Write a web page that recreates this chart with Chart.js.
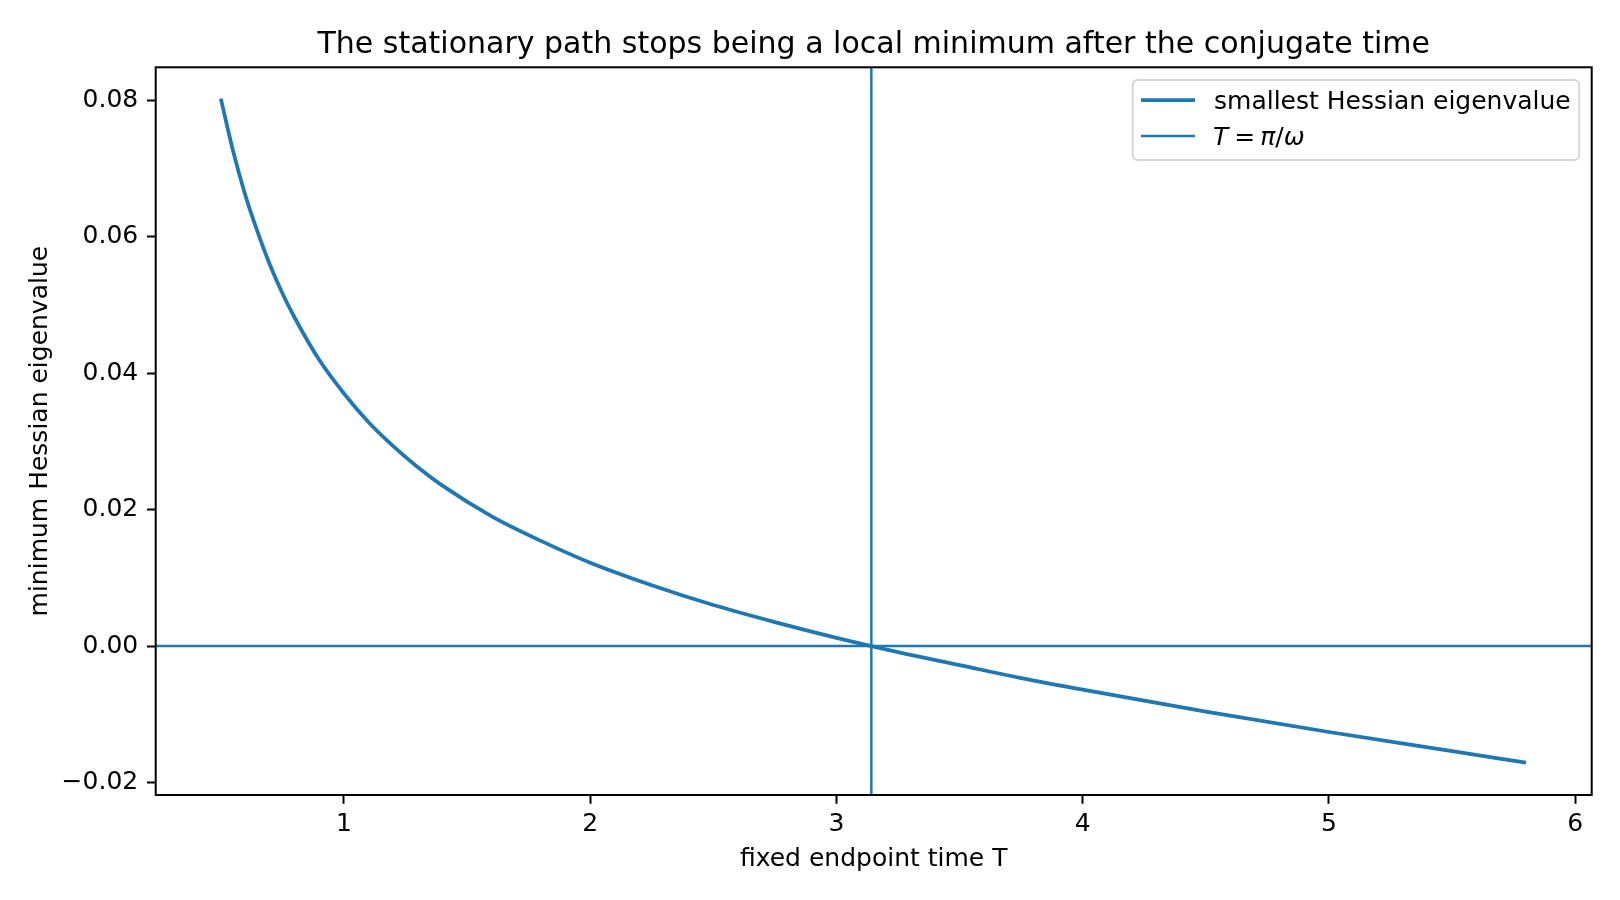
<!DOCTYPE html>
<html lang="en">
<head>
    <meta charset="UTF-8">
    <title>Conjugate time</title>
    <script src="https://cdn.jsdelivr.net/npm/chart.js@4.4.0/dist/chart.umd.min.js"></script>
    <style>
        body {
            margin: 0;
            background: #fff;
        }
        #wrap {
            width: 1620px;
            height: 900px;
        }
    </style>
</head>
<body>
    <div id="wrap">
        <canvas id="eigChart" width="1620" height="900"></canvas>
    </div>

    <script>
        // values
        const tValues = [0.5, 0.55, 0.6, 0.65, 0.7, 0.75, 0.8, 0.9, 1.0, 1.1, 1.2, 1.3, 1.4, 1.6, 1.8,
                         2.0, 2.25, 2.5, 2.75, 3.0, 3.25, 3.5, 3.75, 4.0, 4.5, 5.0, 5.5, 5.8];
        const eigValues = [0.0802, 0.0725, 0.0660, 0.0606, 0.0558, 0.0517, 0.0481, 0.0419, 0.0370,
                           0.0328, 0.0293, 0.0262, 0.0235, 0.0190, 0.0154, 0.0122, 0.0089, 0.0060,
                           0.0035, 0.0012, -0.0009, -0.0028, -0.0047, -0.0064, -0.0096, -0.0126,
                           -0.0154, -0.0171];
        const xTicks = [1, 2, 3, 4, 5, 6];
        const yTicks = [-0.02, 0.00, 0.02, 0.04, 0.06, 0.08];
        const conjugateTime = Math.PI; // T = pi / omega, omega = 1
        const zeroLevel = 0;

        const blue = '#1f77b4';
        const fontFam = "'DejaVu Sans', sans-serif";

        const titleText = 'The stationary path stops being a local minimum after the conjugate time';
        const xLabel = 'fixed endpoint time T';
        const yLabel = 'minimum Hessian eigenvalue';
        const legendLabel = 'smallest Hessian eigenvalue';

        const points = tValues.map((t, i) => ({ x: t, y: eigValues[i] }));

        // axhline / axvline + frame, title, labels, legend
        const decorPlugin = {
            id: 'decor',
            afterDatasetsDraw(chart) {
                const ctx = chart.ctx;
                const a = chart.chartArea;
                const xs = chart.scales.x, ys = chart.scales.y;
                ctx.save();
                ctx.beginPath();
                ctx.rect(a.left, a.top, a.right - a.left, a.bottom - a.top);
                ctx.clip();
                ctx.strokeStyle = blue;
                ctx.lineWidth = 2.5;
                const y0 = ys.getPixelForValue(zeroLevel);
                ctx.beginPath();
                ctx.moveTo(a.left, y0);
                ctx.lineTo(a.right, y0);
                ctx.stroke();
                const xc = xs.getPixelForValue(conjugateTime);
                ctx.beginPath();
                ctx.moveTo(xc, a.top);
                ctx.lineTo(xc, a.bottom);
                ctx.stroke();
                ctx.restore();
            },
            afterDraw(chart) {
                const ctx = chart.ctx;
                const a = chart.chartArea;
                ctx.save();
                // frame
                ctx.strokeStyle = '#000';
                ctx.lineWidth = 2;
                ctx.strokeRect(a.left, a.top, a.right - a.left, a.bottom - a.top);

                ctx.fillStyle = '#000';
                const cx = (a.left + a.right) / 2;
                ctx.textAlign = 'center';
                ctx.textBaseline = 'alphabetic';
                ctx.font = '30px ' + fontFam;
                ctx.fillText(titleText, cx, 52.7);

                ctx.font = '25px ' + fontFam;
                ctx.fillText(xLabel, cx, 866);

                ctx.save();
                ctx.translate(47, (a.top + a.bottom) / 2);
                ctx.rotate(-Math.PI / 2);
                ctx.fillText(yLabel, 0, 0);
                ctx.restore();

                // legend
                const lx = 1132.7, ly = 80, lw = a.right - 12.5 - lx, lh = 80;
                ctx.beginPath();
                ctx.roundRect(lx, ly, lw, lh, 5);
                ctx.fillStyle = 'rgba(255,255,255,0.8)';
                ctx.fill();
                ctx.strokeStyle = '#d6d6d6';
                ctx.lineWidth = 2;
                ctx.stroke();

                ctx.strokeStyle = blue;
                ctx.lineWidth = 3.75;
                ctx.beginPath();
                ctx.moveTo(1141, 100);
                ctx.lineTo(1195, 100);
                ctx.stroke();
                ctx.lineWidth = 2.5;
                ctx.beginPath();
                ctx.moveTo(1141, 136);
                ctx.lineTo(1195, 136);
                ctx.stroke();

                ctx.fillStyle = '#000';
                ctx.textAlign = 'left';
                ctx.font = '25px ' + fontFam;
                ctx.fillText(legendLabel, 1214, 109);

                // T = pi/omega in math italic
                const parts = [['T', true, 6], ['=', false, 5], ['π', true, 0], ['/', false, 0], ['ω', true, 0]];
                let px = 1213;
                parts.forEach(([s, it, gap]) => {
                    ctx.font = (it ? 'italic ' : '') + '25px ' + fontFam;
                    ctx.fillText(s, px, 145);
                    px += ctx.measureText(s).width + gap;
                });
                ctx.restore();
            }
        };

        const ctx = document.getElementById('eigChart').getContext('2d');

        const eigChart = new Chart(ctx, {
            type: 'line',
            data: {
                datasets: [{
                    label: legendLabel,
                    data: points,
                    borderColor: blue,
                    borderWidth: 3.75,
                    pointRadius: 0,
                    fill: false,
                    cubicInterpolationMode: 'monotone'
                }]
            },
            options: {
                responsive: false,
                animation: false,
                devicePixelRatio: 1,
                layout: {
                    padding: { left: 0, right: 28.3, top: 67.3, bottom: 0 }
                },
                plugins: {
                    legend: { display: false },
                    tooltip: { enabled: false },
                    title: { display: false }
                },
                scales: {
                    x: {
                        type: 'linear',
                        min: 0.2355,
                        max: 6.067,
                        afterBuildTicks: s => { s.ticks = xTicks.map(v => ({ value: v })); },
                        afterFit: s => { s.height = 105; },
                        border: { display: false },
                        grid: {
                            drawOnChartArea: false,
                            drawTicks: true,
                            tickLength: 8.75,
                            tickWidth: 2,
                            tickColor: '#000'
                        },
                        ticks: {
                            color: '#000',
                            padding: 6,
                            maxRotation: 0,
                            font: { family: fontFam, size: 25 },
                            callback: v => String(v)
                        }
                    },
                    y: {
                        type: 'linear',
                        min: -0.02183,
                        max: 0.0848,
                        afterBuildTicks: s => { s.ticks = yTicks.map(v => ({ value: v })); },
                        afterFit: s => { s.width = 155.7; },
                        border: { display: false },
                        grid: {
                            drawOnChartArea: false,
                            drawTicks: true,
                            tickLength: 8.75,
                            tickWidth: 2,
                            tickColor: '#000'
                        },
                        ticks: {
                            color: '#000',
                            padding: 8.75,
                            font: { family: fontFam, size: 25 },
                            callback: v => v.toFixed(2).replace('-', '\u2212')
                        }
                    }
                }
            },
            plugins: [decorPlugin]
        });
    </script>
</body>
</html>
